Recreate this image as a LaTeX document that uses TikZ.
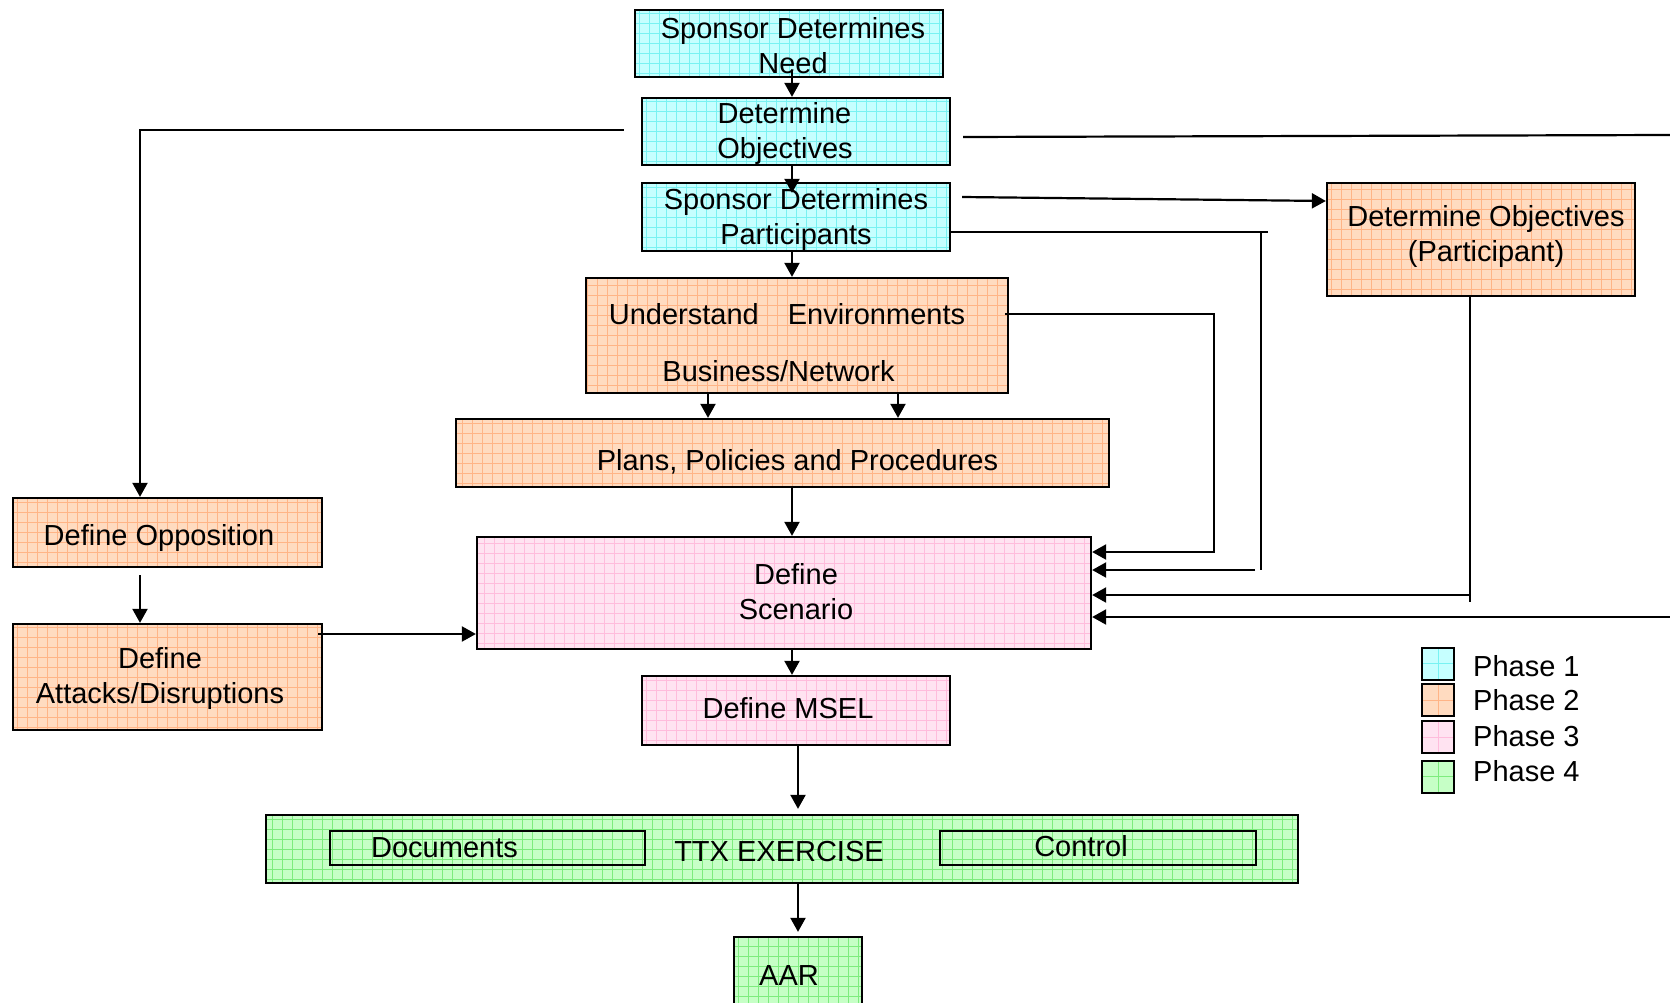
\documentclass[tikz,border=0pt]{standalone}
\usepackage{fontspec}
\setmainfont{Liberation Sans}
\usetikzlibrary{arrows.meta}
\definecolor{phaseOneFill}{RGB}{198,255,255}
\definecolor{phaseOneGrid}{RGB}{120,242,242}
\definecolor{phaseTwoFill}{RGB}{255,219,192}
\definecolor{phaseTwoGrid}{RGB}{255,180,134}
\definecolor{phaseThreeFill}{RGB}{255,227,241}
\definecolor{phaseThreeGrid}{RGB}{255,188,220}
\definecolor{phaseFourFill}{RGB}{198,255,198}
\definecolor{phaseFourGrid}{RGB}{126,236,126}
\newcommand{\boxFont}{\fontsize{29}{35}\selectfont}
\tikzstyle{diagram} = [x = 1pt, y = -1pt, every node/.style={font=\boxFont, inner sep=0pt}]
\tikzstyle{boxStyle} = [draw=black, line width=2.3pt, inner sep=0pt]
\tikzset{gridFill/.style n args={3}{fill=#1, path picture={\draw[#2, line width=0.7pt] (path picture bounding box.south west) grid[step=#3] (path picture bounding box.north east);}}}
\tikzstyle{phaseOne} = [boxStyle, gridFill={phaseOneFill}{phaseOneGrid}{10pt}]
\tikzstyle{phaseTwo} = [boxStyle, gridFill={phaseTwoFill}{phaseTwoGrid}{10pt}]
\tikzstyle{phaseThree} = [boxStyle, gridFill={phaseThreeFill}{phaseThreeGrid}{10pt}]
\tikzstyle{phaseFour} = [boxStyle, gridFill={phaseFourFill}{phaseFourGrid}{10pt}]
\tikzstyle{phaseOneKey} = [boxStyle, line width=2pt, gridFill={phaseOneFill}{phaseOneGrid}{16pt}]
\tikzstyle{phaseTwoKey} = [boxStyle, line width=2pt, gridFill={phaseTwoFill}{phaseTwoGrid}{16pt}]
\tikzstyle{phaseThreeKey} = [boxStyle, line width=2pt, gridFill={phaseThreeFill}{phaseThreeGrid}{16pt}]
\tikzstyle{phaseFourKey} = [boxStyle, line width=2pt, gridFill={phaseFourFill}{phaseFourGrid}{16pt}]
\tikzstyle{boxText} = [align=center]
\tikzstyle{innerBox} = [draw=black, line width=2pt]
\tikzstyle{flowLine} = [line width=2.2pt]
\tikzstyle{flowArrow} = [flowLine, -{Triangle[length=14pt, width=15pt]}]
\newcommand{\phaseBox}[8]{
  \node [#1, minimum width=#5pt, minimum height=#6pt] (#2) at (#3,#4) {};
  \node [boxText] (#2Text) at ([shift={#7}]#2.center) {#8};
}
\newcommand{\legendEntry}[5]{
  \node [#1, minimum size=32pt] (#2) at (1438,#3) {};
  \node [anchor=west] (#2Text) at (1473,#4) {#5};
}

\begin{document}
\begin{tikzpicture}[diagram]
  \useasboundingbox (0,0) rectangle (1670,1003);
  % phase 1
  \phaseBox{phaseOne}{need}{789}{43.5}{308}{67}{(4,2)}{Sponsor Determines\\Need}
  \phaseBox{phaseOne}{objectives}{796}{131.5}{308}{67}{(-11,2)}{Determine\hspace*{1pt}\\Objectives}
  \phaseBox{phaseOne}{participants}{796}{217}{308}{68}{(0,3)}{Sponsor Determines\\Participants}
  % phase 2
  \phaseBox{phaseTwo}{environments}{797}{335.5}{422}{115}{(-10,7)}{Understand\hspace{29pt}Environments\\[22pt]\hspace*{-17pt}Business/Network}
  \phaseBox{phaseTwo}{plans}{782.5}{453}{653}{68}{(15,8.5)}{Plans, Policies and Procedures}
  \phaseBox{phaseTwo}{partObjectives}{1481}{239.5}{308}{113}{(5,-3)}{Determine Objectives\\(Participant)}
  \phaseBox{phaseTwo}{opposition}{167.5}{532.5}{309}{69}{(-8.5,5)}{Define Opposition}
  \phaseBox{phaseTwo}{attacks}{167.5}{677}{309}{106}{(-7.5,1)}{Define\\Attacks/Disruptions}
  % phase 3
  \phaseBox{phaseThree}{scenario}{784}{593}{614}{112}{(12,-1)}{Define\\Scenario}
  \phaseBox{phaseThree}{msel}{796}{710.5}{308}{69}{(-8,-2)}{Define MSEL}
  % phase 4
  \phaseBox{phaseFour}{ttx}{782}{849}{1032}{68}{(-3,3)}{TTX EXERCISE}
  \phaseBox{phaseFour}{aar}{798}{976}{128}{78}{(-9,0)}{AAR}
  \node [innerBox, minimum width=315pt, minimum height=34pt] (documents) at (487.5,848) {};
  \node [innerBox, minimum width=316pt, minimum height=34pt] (control) at (1098,848) {};
  \node (documentsText) at ([xshift=-43pt]documents.center) {Documents};
  \node (controlText) at ([xshift=-17pt, yshift=2pt]control.center) {Control};

  % legend
  \legendEntry{phaseOneKey}{keyOne}{663.5}{666}{Phase 1}
  \legendEntry{phaseTwoKey}{keyTwo}{700}{700}{Phase 2}
  \legendEntry{phaseThreeKey}{keyThree}{737}{736}{Phase 3}
  \legendEntry{phaseFourKey}{keyFour}{776.5}{771}{Phase 4}

  % main column
  \draw [flowArrow] ([xshift=3pt, yshift=7pt]need.south) -- ([xshift=-4pt]objectives.north);
  \draw [flowArrow] ([xshift=-4pt]objectives.south) -- ([xshift=-4pt, yshift=-11pt]participants.north);
  \draw [flowArrow] ([xshift=-4pt]participants.south) -- ([xshift=-5pt]environments.north);
  \draw [flowArrow] ([xshift=-89pt]environments.south) -- ([xshift=-74.5pt]plans.north);
  \draw [flowArrow] ([xshift=101pt]environments.south) -- ([xshift=115.5pt]plans.north);
  \draw [flowArrow] ([xshift=9.5pt]plans.south) -- ([xshift=8pt]scenario.north);
  \draw [flowArrow] ([xshift=8pt]scenario.south) -- ([xshift=-4pt]msel.north);
  \draw [flowArrow] ([xshift=2pt]msel.south) -- ([xshift=16pt, yshift=5pt]ttx.north);
  \draw [flowArrow] ([xshift=16pt]ttx.south) -- ([yshift=4pt]aar.north);

  % left branch
  \draw [flowArrow] ([xshift=-17pt, yshift=1.5pt]objectives.west) -| ([xshift=-27.5pt]opposition.north);
  \draw [flowArrow] ([xshift=-27.5pt, yshift=-7pt]opposition.south) -- ([xshift=-27.5pt]attacks.north);
  \coordinate (attacksOut) at ([xshift=-5pt, yshift=43pt]attacks.east);
  \draw [flowArrow] (attacksOut) -- (attacksOut -| scenario.west);

  % right branch
  \coordinate (edgeTop) at (1670,135);
  \coordinate (edgeBottom) at (1670,617);
  \draw [flowLine] ([xshift=12pt, yshift=-5.5pt]objectives.east) -- (edgeTop);
  \draw [flowArrow] (edgeBottom) -- (edgeBottom -| scenario.east);
  \draw [flowArrow] ([xshift=11pt, yshift=20pt]participants.east) -- ([yshift=38.5pt]partObjectives.west);

  \coordinate (envTurn) at (1214,552);
  \draw [flowArrow] ([xshift=-4pt, yshift=21.5pt]environments.east) -| (envTurn) -- (envTurn -| scenario.east);

  \coordinate (partTop) at (1261,232);
  \coordinate (partBottom) at (1261,570);
  \draw [flowLine] ([yshift=-15pt]participants.east) -- ([xshift=7pt]partTop);
  \draw [flowLine] (partTop) -- (partBottom);
  \draw [flowArrow] ([xshift=-6pt]partBottom) -- (partBottom -| scenario.east);

  \coordinate (objBottom) at (1470,602);
  \coordinate (objArrow) at (1470,595);
  \draw [flowLine] ([xshift=-11pt]partObjectives.south) -- (objBottom);
  \draw [flowArrow] (objArrow) -- (objArrow -| scenario.east);
\end{tikzpicture}
\end{document}
